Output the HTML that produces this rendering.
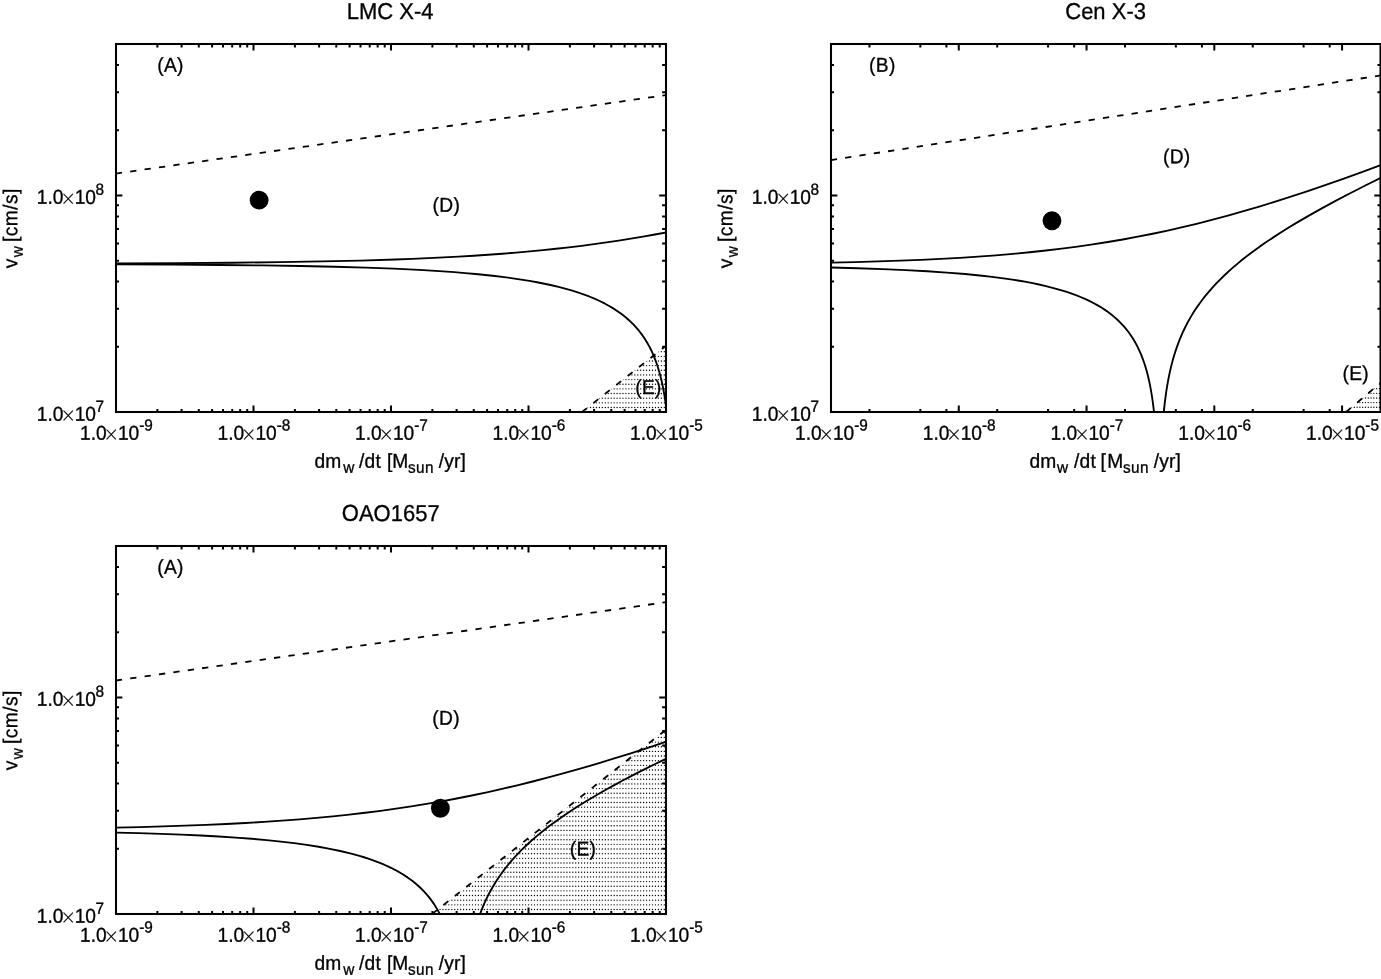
<!DOCTYPE html><html><head><meta charset="utf-8"><title>Figure</title><style>html,body{margin:0;padding:0;background:#fff}svg{display:block}text{font-family:"Liberation Sans", Arial, Helvetica, sans-serif;fill:#000;stroke:#000;stroke-width:0.3px}.x{font-family:"DejaVu Sans","Liberation Sans", Arial, Helvetica, sans-serif;font-weight:200;stroke-width:0.12px}</style></head><body>
<svg width="1381" height="979" viewBox="0 0 1381 979">
<rect width="1381" height="979" fill="#fff"/>
<clipPath id="c1"><rect x="116" y="44" width="550" height="368"/></clipPath>
<g clip-path="url(#c1)">
<clipPath id="e1"><polygon points="582.00,412.00 666.00,345.87 666.00,412.00"/></clipPath>
<path clip-path="url(#e1)" d="M581.67,412.10h0m2.951,0h0m2.951,0h0m2.951,0h0m2.951,0h0m2.951,0h0m2.951,0h0m2.951,0h0m2.951,0h0m2.951,0h0m2.951,0h0m2.951,0h0m2.951,0h0m2.951,0h0m2.951,0h0m2.951,0h0m2.951,0h0m2.951,0h0m2.951,0h0m2.951,0h0m2.951,0h0m2.951,0h0m2.951,0h0m2.951,0h0m2.951,0h0m2.951,0h0m2.951,0h0m2.951,0h0m2.951,0h0M587.58,407.45h0m2.951,0h0m2.951,0h0m2.951,0h0m2.951,0h0m2.951,0h0m2.951,0h0m2.951,0h0m2.951,0h0m2.951,0h0m2.951,0h0m2.951,0h0m2.951,0h0m2.951,0h0m2.951,0h0m2.951,0h0m2.951,0h0m2.951,0h0m2.951,0h0m2.951,0h0m2.951,0h0m2.951,0h0m2.951,0h0m2.951,0h0m2.951,0h0m2.951,0h0m2.951,0h0M593.48,402.80h0m2.951,0h0m2.951,0h0m2.951,0h0m2.951,0h0m2.951,0h0m2.951,0h0m2.951,0h0m2.951,0h0m2.951,0h0m2.951,0h0m2.951,0h0m2.951,0h0m2.951,0h0m2.951,0h0m2.951,0h0m2.951,0h0m2.951,0h0m2.951,0h0m2.951,0h0m2.951,0h0m2.951,0h0m2.951,0h0m2.951,0h0m2.951,0h0M599.38,398.15h0m2.951,0h0m2.951,0h0m2.951,0h0m2.951,0h0m2.951,0h0m2.951,0h0m2.951,0h0m2.951,0h0m2.951,0h0m2.951,0h0m2.951,0h0m2.951,0h0m2.951,0h0m2.951,0h0m2.951,0h0m2.951,0h0m2.951,0h0m2.951,0h0m2.951,0h0m2.951,0h0m2.951,0h0m2.951,0h0M605.28,393.50h0m2.951,0h0m2.951,0h0m2.951,0h0m2.951,0h0m2.951,0h0m2.951,0h0m2.951,0h0m2.951,0h0m2.951,0h0m2.951,0h0m2.951,0h0m2.951,0h0m2.951,0h0m2.951,0h0m2.951,0h0m2.951,0h0m2.951,0h0m2.951,0h0m2.951,0h0m2.951,0h0M611.18,388.85h0m2.951,0h0m2.951,0h0m2.951,0h0m2.951,0h0m2.951,0h0m2.951,0h0m2.951,0h0m2.951,0h0m2.951,0h0m2.951,0h0m2.951,0h0m2.951,0h0m2.951,0h0m2.951,0h0m2.951,0h0m2.951,0h0m2.951,0h0m2.951,0h0M617.09,384.20h0m2.951,0h0m2.951,0h0m2.951,0h0m2.951,0h0m2.951,0h0m2.951,0h0m2.951,0h0m2.951,0h0m2.951,0h0m2.951,0h0m2.951,0h0m2.951,0h0m2.951,0h0m2.951,0h0m2.951,0h0m2.951,0h0M622.99,379.56h0m2.951,0h0m2.951,0h0m2.951,0h0m2.951,0h0m2.951,0h0m2.951,0h0m2.951,0h0m2.951,0h0m2.951,0h0m2.951,0h0m2.951,0h0m2.951,0h0m2.951,0h0m2.951,0h0M628.89,374.91h0m2.951,0h0m2.951,0h0m2.951,0h0m2.951,0h0m2.951,0h0m2.951,0h0m2.951,0h0m2.951,0h0m2.951,0h0m2.951,0h0m2.951,0h0m2.951,0h0M634.79,370.26h0m2.951,0h0m2.951,0h0m2.951,0h0m2.951,0h0m2.951,0h0m2.951,0h0m2.951,0h0m2.951,0h0m2.951,0h0m2.951,0h0M640.69,365.61h0m2.951,0h0m2.951,0h0m2.951,0h0m2.951,0h0m2.951,0h0m2.951,0h0m2.951,0h0m2.951,0h0M646.60,360.96h0m2.951,0h0m2.951,0h0m2.951,0h0m2.951,0h0m2.951,0h0m2.951,0h0M652.50,356.31h0m2.951,0h0m2.951,0h0m2.951,0h0m2.951,0h0M658.40,351.66h0m2.951,0h0m2.951,0h0M664.30,347.01h0" stroke="#000" stroke-width="1.35" stroke-linecap="round" fill="none"/>
<path d="M115.80,173.58L667.00,94.96" stroke="#000" stroke-width="1.8" fill="none" stroke-dasharray="6.3 8.23"/>
<path d="M582.00,412.00L668.00,344.29" stroke="#000" stroke-width="1.8" fill="none" stroke-dasharray="6.3 8.23" stroke-dashoffset="0"/>
<path d="M115.00,263.45L178.22,263.14L232.23,262.72L279.57,262.16L321.74,261.45L360.25,260.55L395.48,259.46L412.08,258.83L428.10,258.15L443.59,257.41L458.59,256.60L473.56,255.71L488.12,254.75L502.31,253.71L516.15,252.60L529.70,251.41L542.99,250.14L556.03,248.78L568.87,247.34L581.53,245.80L594.04,244.17L606.42,242.44L618.67,240.62L630.84,238.69L642.93,236.66L654.98,234.51L667.00,232.25" stroke="#000" stroke-width="1.85" fill="none" stroke-linejoin="round"/>
<path d="M115.00,264.33L171.46,264.61L220.03,264.97L262.65,265.44L300.46,266.03L334.62,266.77L365.48,267.65L393.52,268.70L419.13,269.92L431.41,270.63L443.16,271.38L454.41,272.19L465.18,273.05L475.52,273.98L485.44,274.96L494.95,276.01L504.09,277.12L512.85,278.30L521.27,279.55L529.34,280.87L537.10,282.26L544.54,283.72L551.67,285.27L558.52,286.89L565.07,288.60L571.50,290.43L577.66,292.36L583.54,294.37L589.17,296.49L594.53,298.70L599.67,301.02L604.55,303.45L609.22,305.98L613.65,308.63L617.87,311.40L621.87,314.28L625.67,317.29L629.26,320.43L632.66,323.71L635.88,327.12L638.92,330.69L641.75,334.37L644.41,338.20L646.91,342.20L649.25,346.38L651.45,350.74L653.49,355.29L655.39,360.04L657.16,365.01L658.79,370.18L660.29,375.59L661.69,381.31L662.96,387.27L664.12,393.53L665.18,400.18L666.13,407.12L667.00,414.55" stroke="#000" stroke-width="1.85" fill="none" stroke-linejoin="round"/>
</g>
<path d="M157.39,412v-3.05M157.39,44v3.6M181.60,412v-3.05M181.60,44v3.6M198.78,412v-3.05M198.78,44v3.6M212.11,412v-3.05M212.11,44v3.6M223.00,412v-3.05M223.00,44v3.6M232.20,412v-3.05M232.20,44v3.6M240.17,412v-3.05M240.17,44v3.6M247.21,412v-3.05M247.21,44v3.6M253.50,412v-6.5M253.50,44v6.6M294.89,412v-3.05M294.89,44v3.6M319.10,412v-3.05M319.10,44v3.6M336.28,412v-3.05M336.28,44v3.6M349.61,412v-3.05M349.61,44v3.6M360.50,412v-3.05M360.50,44v3.6M369.70,412v-3.05M369.70,44v3.6M377.67,412v-3.05M377.67,44v3.6M384.71,412v-3.05M384.71,44v3.6M391.00,412v-6.5M391.00,44v6.6M432.39,412v-3.05M432.39,44v3.6M456.60,412v-3.05M456.60,44v3.6M473.78,412v-3.05M473.78,44v3.6M487.11,412v-3.05M487.11,44v3.6M498.00,412v-3.05M498.00,44v3.6M507.20,412v-3.05M507.20,44v3.6M515.17,412v-3.05M515.17,44v3.6M522.21,412v-3.05M522.21,44v3.6M528.50,412v-6.5M528.50,44v6.6M569.89,412v-3.05M569.89,44v3.6M594.10,412v-3.05M594.10,44v3.6M611.28,412v-3.05M611.28,44v3.6M624.61,412v-3.05M624.61,44v3.6M635.50,412v-3.05M635.50,44v3.6M644.70,412v-3.05M644.70,44v3.6M652.67,412v-3.05M652.67,44v3.6M659.71,412v-3.05M659.71,44v3.6M116,346.81h3.0M666,346.81h-3.9M116,308.68h3.0M666,308.68h-3.9M116,281.62h3.0M666,281.62h-3.9M116,260.64h3.0M666,260.64h-3.9M116,243.49h3.0M666,243.49h-3.9M116,228.99h3.0M666,228.99h-3.9M116,216.44h3.0M666,216.44h-3.9M116,205.36h3.0M666,205.36h-3.9M116,195.45h6.4M666,195.45h-6.8M116,130.26h3.0M666,130.26h-3.9M116,92.13h3.0M666,92.13h-3.9M116,65.07h3.0M666,65.07h-3.9" stroke="#000" stroke-width="2.0" fill="none"/>
<rect x="116" y="44" width="550" height="368" fill="none" stroke="#000" stroke-width="2.05"/>
<circle cx="259.1" cy="200.13" r="9.4" fill="#000"/>
<g transform="translate(80.00,439.70) rotate(0.03) scale(1,1.045)"><text font-size="19.2">1.0</text><text x="23.35" y="1.0" font-size="19" class="x">×</text><text x="37.9" font-size="19.2">10</text><text x="59.2" y="-8.8" font-size="15.36">-9</text></g>
<g transform="translate(217.50,439.70) rotate(0.03) scale(1,1.045)"><text font-size="19.2">1.0</text><text x="23.35" y="1.0" font-size="19" class="x">×</text><text x="37.9" font-size="19.2">10</text><text x="59.2" y="-8.8" font-size="15.36">-8</text></g>
<g transform="translate(355.00,439.70) rotate(0.03) scale(1,1.045)"><text font-size="19.2">1.0</text><text x="23.35" y="1.0" font-size="19" class="x">×</text><text x="37.9" font-size="19.2">10</text><text x="59.2" y="-8.8" font-size="15.36">-7</text></g>
<g transform="translate(492.50,439.70) rotate(0.03) scale(1,1.045)"><text font-size="19.2">1.0</text><text x="23.35" y="1.0" font-size="19" class="x">×</text><text x="37.9" font-size="19.2">10</text><text x="59.2" y="-8.8" font-size="15.36">-6</text></g>
<g transform="translate(630.00,439.70) rotate(0.03) scale(1,1.045)"><text font-size="19.2">1.0</text><text x="23.35" y="1.0" font-size="19" class="x">×</text><text x="37.9" font-size="19.2">10</text><text x="59.2" y="-8.8" font-size="15.36">-5</text></g>
<g transform="translate(36.80,420.80) rotate(0.03) scale(1,1.045)"><text font-size="19.2">1.0</text><text x="23.35" y="1.0" font-size="19" class="x">×</text><text x="37.9" font-size="19.2">10</text><text x="58.7" y="-8.8" font-size="15.36">7</text></g>
<g transform="translate(36.80,203.85) rotate(0.03) scale(1,1.045)"><text font-size="19.2">1.0</text><text x="23.35" y="1.0" font-size="19" class="x">×</text><text x="37.9" font-size="19.2">10</text><text x="58.7" y="-8.8" font-size="15.36">8</text></g>
<text transform="translate(390.20,18.90) rotate(0.03) scale(1,1.045)" font-size="22.0" text-anchor="middle">LMC X-4</text>
<text transform="translate(314.50,467.80) rotate(0.03) scale(1,1.045)" font-size="19.2">dm</text>
<text transform="translate(343.20,472.70) rotate(0.03) scale(1,1.045)" font-size="15.36">w</text>
<text transform="translate(358.90,467.80) rotate(0.03) scale(1,1.045)" font-size="19.2" letter-spacing="0.25">/dt</text>
<text transform="translate(386.90,467.80) rotate(0.03) scale(1,1.045)" font-size="19.2">[</text>
<text transform="translate(392.24,467.80) rotate(0.03) scale(1,1.045)" font-size="19.2">M</text>
<text transform="translate(407.90,472.70) rotate(0.03) scale(1,1.045)" font-size="15.36" letter-spacing="0.4">sun</text>
<text transform="translate(438.70,467.80) rotate(0.03) scale(1,1.045)" font-size="19.2" letter-spacing="0.15">/yr</text>
<text transform="translate(460.50,467.80) rotate(0.03) scale(1,1.045)" font-size="19.2">]</text>
<text transform="translate(17.30,268.30) rotate(-90) rotate(0.03) scale(1,1.045)" font-size="19.2">v</text>
<text transform="translate(22.70,257.30) rotate(-90) rotate(0.03) scale(1,1.045)" font-size="15.36">w</text>
<text transform="translate(17.30,242.00) rotate(-90) rotate(0.03) scale(1,1.045)" font-size="19.2" letter-spacing="0.42">[cm/s]</text>
<text transform="translate(157.20,71.70) rotate(0.03) scale(1,1.045)" font-size="19.2" letter-spacing="0.3">(A)</text>
<text transform="translate(432.60,211.70) rotate(0.03) scale(1,1.045)" font-size="19.2" letter-spacing="0.3">(D)</text>
<text transform="translate(635.20,394.00) rotate(0.03) scale(1,1.045)" font-size="19.2" letter-spacing="0.3">(E)</text>
<clipPath id="c2"><rect x="831" y="44" width="549.5" height="368"/></clipPath>
<g clip-path="url(#c2)">
<clipPath id="e2"><polygon points="1346.10,412.00 1380.50,382.86 1380.50,412.00"/></clipPath>
<path clip-path="url(#e2)" d="M1345.93,411.92h0m2.79,0h0m2.79,0h0m2.79,0h0m2.79,0h0m2.79,0h0m2.79,0h0m2.79,0h0m2.79,0h0m2.79,0h0m2.79,0h0m2.79,0h0m2.79,0h0M1351.51,407.27h0m2.79,0h0m2.79,0h0m2.79,0h0m2.79,0h0m2.79,0h0m2.79,0h0m2.79,0h0m2.79,0h0m2.79,0h0m2.79,0h0M1357.09,402.62h0m2.79,0h0m2.79,0h0m2.79,0h0m2.79,0h0m2.79,0h0m2.79,0h0m2.79,0h0m2.79,0h0M1362.67,397.97h0m2.79,0h0m2.79,0h0m2.79,0h0m2.79,0h0m2.79,0h0m2.79,0h0M1368.25,393.32h0m2.79,0h0m2.79,0h0m2.79,0h0m2.79,0h0M1373.83,388.67h0m2.79,0h0m2.79,0h0M1379.41,384.02h0" stroke="#000" stroke-width="1.35" stroke-linecap="round" fill="none"/>
<path d="M830.80,160.08L1381.50,75.30" stroke="#000" stroke-width="1.8" fill="none" stroke-dasharray="6.3 8.19"/>
<path d="M1346.10,412.00L1382.50,381.17" stroke="#000" stroke-width="1.8" fill="none" stroke-dasharray="6.3 8.23" stroke-dashoffset="0"/>
<path d="M830.00,262.67L854.81,262.09L878.09,261.43L900.08,260.68L920.93,259.83L940.83,258.87L959.86,257.80L978.16,256.61L995.80,255.30L1012.96,253.85L1029.65,252.27L1045.89,250.54L1061.78,248.66L1077.36,246.62L1092.69,244.41L1107.83,242.03L1122.80,239.48L1137.79,236.71L1152.72,233.74L1167.63,230.56L1182.56,227.17L1197.56,223.55L1212.68,219.69L1227.96,215.58L1243.46,211.20L1259.18,206.56L1275.23,201.62L1291.65,196.38L1308.53,190.79L1325.90,184.85L1343.88,178.53L1362.54,171.79L1382.00,164.60" stroke="#000" stroke-width="1.85" fill="none" stroke-linejoin="round"/>
<path d="M830.00,267.52L857.55,268.25L882.72,269.11L905.83,270.10L927.13,271.25L946.85,272.56L965.11,274.04L982.05,275.71L990.06,276.61L997.78,277.57L1005.28,278.58L1012.51,279.65L1019.48,280.78L1026.20,281.96L1032.67,283.20L1038.91,284.50L1044.91,285.86L1050.70,287.28L1056.27,288.77L1061.64,290.33L1066.80,291.95L1071.77,293.64L1076.54,295.41L1081.14,297.25L1085.55,299.16L1089.79,301.16L1093.82,303.21L1097.70,305.35L1101.41,307.57L1104.97,309.88L1108.37,312.27L1111.62,314.76L1114.74,317.35L1117.71,320.03L1120.54,322.80L1123.24,325.69L1125.81,328.68L1128.25,331.79L1130.57,335.01L1132.77,338.34L1134.85,341.81L1136.81,345.39L1138.64,349.08L1140.38,352.92L1142.01,356.90L1143.54,361.03L1144.98,365.32L1146.33,369.81L1147.59,374.47L1148.76,379.33L1149.84,384.34L1150.84,389.61L1151.77,395.09L1152.62,400.84L1153.41,406.88L1154.13,413.21L1154.78,419.82L1155.37,426.84M1162.48,426.99L1163.51,414.56L1164.73,403.12L1166.15,392.41L1166.94,387.34L1167.79,382.34L1168.70,377.52L1169.67,372.85L1170.70,368.28L1171.79,363.86L1172.95,359.53L1174.18,355.30L1175.48,351.17L1176.86,347.09L1178.32,343.07L1179.85,339.15L1181.47,335.29L1183.16,331.49L1184.94,327.76L1186.82,324.06L1188.78,320.43L1190.82,316.86L1192.96,313.32L1195.20,309.83L1197.53,306.37L1199.96,302.95L1202.50,299.55L1205.13,296.19L1207.88,292.85L1210.72,289.54L1213.73,286.19L1216.85,282.87L1220.09,279.56L1223.46,276.25L1226.95,272.96L1230.57,269.68L1234.31,266.40L1238.19,263.12L1242.20,259.84L1246.36,256.56L1250.66,253.26L1255.11,249.97L1264.46,243.32L1274.44,236.61L1285.07,229.81L1296.40,222.90L1308.47,215.84L1321.35,208.61L1335.07,201.18L1349.69,193.51L1365.32,185.55L1382.00,177.29" stroke="#000" stroke-width="1.85" fill="none" stroke-linejoin="round"/>
</g>
<path d="M869.46,412v-3.05M869.46,44v3.6M920.31,412v-3.05M920.31,44v3.6M946.39,412v-3.05M946.39,44v3.6M958.77,412v-6.5M958.77,44v6.6M997.23,412v-3.05M997.23,44v3.6M1048.08,412v-3.05M1048.08,44v3.6M1074.16,412v-3.05M1074.16,44v3.6M1086.54,412v-6.5M1086.54,44v6.6M1125.00,412v-3.05M1125.00,44v3.6M1175.85,412v-3.05M1175.85,44v3.6M1201.93,412v-3.05M1201.93,44v3.6M1214.31,412v-6.5M1214.31,44v6.6M1252.77,412v-3.05M1252.77,44v3.6M1303.62,412v-3.05M1303.62,44v3.6M1329.70,412v-3.05M1329.70,44v3.6M1342.08,412v-6.5M1342.08,44v6.6M831,346.81h3.0M1380.5,346.81h-3.0M831,308.68h3.0M1380.5,308.68h-3.0M831,281.62h3.0M1380.5,281.62h-3.0M831,260.64h3.0M1380.5,260.64h-3.0M831,243.49h3.0M1380.5,243.49h-3.0M831,228.99h3.0M1380.5,228.99h-3.0M831,216.44h3.0M1380.5,216.44h-3.0M831,205.36h3.0M1380.5,205.36h-3.0M831,195.45h6.4M1380.5,195.45h-6.2M831,130.26h3.0M1380.5,130.26h-3.0M831,92.13h3.0M1380.5,92.13h-3.0M831,65.07h3.0M1380.5,65.07h-3.0" stroke="#000" stroke-width="2.0" fill="none"/>
<rect x="831" y="44" width="549.5" height="368" fill="none" stroke="#000" stroke-width="2.05"/>
<circle cx="1051.95" cy="220.75" r="9.4" fill="#000"/>
<g transform="translate(795.00,439.70) rotate(0.03) scale(1,1.045)"><text font-size="19.2">1.0</text><text x="23.35" y="1.0" font-size="19" class="x">×</text><text x="37.9" font-size="19.2">10</text><text x="59.2" y="-8.8" font-size="15.36">-9</text></g>
<g transform="translate(922.77,439.70) rotate(0.03) scale(1,1.045)"><text font-size="19.2">1.0</text><text x="23.35" y="1.0" font-size="19" class="x">×</text><text x="37.9" font-size="19.2">10</text><text x="59.2" y="-8.8" font-size="15.36">-8</text></g>
<g transform="translate(1050.54,439.70) rotate(0.03) scale(1,1.045)"><text font-size="19.2">1.0</text><text x="23.35" y="1.0" font-size="19" class="x">×</text><text x="37.9" font-size="19.2">10</text><text x="59.2" y="-8.8" font-size="15.36">-7</text></g>
<g transform="translate(1178.31,439.70) rotate(0.03) scale(1,1.045)"><text font-size="19.2">1.0</text><text x="23.35" y="1.0" font-size="19" class="x">×</text><text x="37.9" font-size="19.2">10</text><text x="59.2" y="-8.8" font-size="15.36">-6</text></g>
<g transform="translate(1306.08,439.70) rotate(0.03) scale(1,1.045)"><text font-size="19.2">1.0</text><text x="23.35" y="1.0" font-size="19" class="x">×</text><text x="37.9" font-size="19.2">10</text><text x="59.2" y="-8.8" font-size="15.36">-5</text></g>
<g transform="translate(751.80,420.80) rotate(0.03) scale(1,1.045)"><text font-size="19.2">1.0</text><text x="23.35" y="1.0" font-size="19" class="x">×</text><text x="37.9" font-size="19.2">10</text><text x="58.7" y="-8.8" font-size="15.36">7</text></g>
<g transform="translate(751.80,203.85) rotate(0.03) scale(1,1.045)"><text font-size="19.2">1.0</text><text x="23.35" y="1.0" font-size="19" class="x">×</text><text x="37.9" font-size="19.2">10</text><text x="58.7" y="-8.8" font-size="15.36">8</text></g>
<text transform="translate(1105.60,18.90) rotate(0.03) scale(1,1.045)" font-size="22.0" text-anchor="middle">Cen X-3</text>
<text transform="translate(1029.50,467.80) rotate(0.03) scale(1,1.045)" font-size="19.2">dm</text>
<text transform="translate(1057.10,472.70) rotate(0.03) scale(1,1.045)" font-size="15.36">w</text>
<text transform="translate(1073.90,467.80) rotate(0.03) scale(1,1.045)" font-size="19.2" letter-spacing="0.25">/dt</text>
<text transform="translate(1100.50,467.80) rotate(0.03) scale(1,1.045)" font-size="19.2">[</text>
<text transform="translate(1107.24,467.80) rotate(0.03) scale(1,1.045)" font-size="19.2">M</text>
<text transform="translate(1122.90,472.70) rotate(0.03) scale(1,1.045)" font-size="15.36" letter-spacing="0.4">sun</text>
<text transform="translate(1153.70,467.80) rotate(0.03) scale(1,1.045)" font-size="19.2" letter-spacing="0.15">/yr</text>
<text transform="translate(1175.50,467.80) rotate(0.03) scale(1,1.045)" font-size="19.2">]</text>
<text transform="translate(732.30,268.30) rotate(-90) rotate(0.03) scale(1,1.045)" font-size="19.2">v</text>
<text transform="translate(737.70,257.30) rotate(-90) rotate(0.03) scale(1,1.045)" font-size="15.36">w</text>
<text transform="translate(732.30,242.00) rotate(-90) rotate(0.03) scale(1,1.045)" font-size="19.2" letter-spacing="0.42">[cm/s]</text>
<text transform="translate(869.10,71.70) rotate(0.03) scale(1,1.045)" font-size="19.2" letter-spacing="0.3">(B)</text>
<text transform="translate(1163.00,163.20) rotate(0.03) scale(1,1.045)" font-size="19.2" letter-spacing="0.3">(D)</text>
<text transform="translate(1342.50,379.90) rotate(0.03) scale(1,1.045)" font-size="19.2" letter-spacing="0.3">(E)</text>
<clipPath id="c3"><rect x="116" y="546" width="550" height="368"/></clipPath>
<g clip-path="url(#c3)">
<clipPath id="e3"><polygon points="432.00,914.00 666.00,729.77 666.00,914.00"/></clipPath>
<path clip-path="url(#e3)" d="M431.17,914.10h0m2.951,0h0m2.951,0h0m2.951,0h0m2.951,0h0m2.951,0h0m2.951,0h0m2.951,0h0m2.951,0h0m2.951,0h0m2.951,0h0m2.951,0h0m2.951,0h0m2.951,0h0m2.951,0h0m2.951,0h0m2.951,0h0m2.951,0h0m2.951,0h0m2.951,0h0m2.951,0h0m2.951,0h0m2.951,0h0m2.951,0h0m2.951,0h0m2.951,0h0m2.951,0h0m2.951,0h0m2.951,0h0m2.951,0h0m2.951,0h0m2.951,0h0m2.951,0h0m2.951,0h0m2.951,0h0m2.951,0h0m2.951,0h0m2.951,0h0m2.951,0h0m2.951,0h0m2.951,0h0m2.951,0h0m2.951,0h0m2.951,0h0m2.951,0h0m2.951,0h0m2.951,0h0m2.951,0h0m2.951,0h0m2.951,0h0m2.951,0h0m2.951,0h0m2.951,0h0m2.951,0h0m2.951,0h0m2.951,0h0m2.951,0h0m2.951,0h0m2.951,0h0m2.951,0h0m2.951,0h0m2.951,0h0m2.951,0h0m2.951,0h0m2.951,0h0m2.951,0h0m2.951,0h0m2.951,0h0m2.951,0h0m2.951,0h0m2.951,0h0m2.951,0h0m2.951,0h0m2.951,0h0m2.951,0h0m2.951,0h0m2.951,0h0m2.951,0h0m2.951,0h0m2.951,0h0M437.07,909.45h0m2.951,0h0m2.951,0h0m2.951,0h0m2.951,0h0m2.951,0h0m2.951,0h0m2.951,0h0m2.951,0h0m2.951,0h0m2.951,0h0m2.951,0h0m2.951,0h0m2.951,0h0m2.951,0h0m2.951,0h0m2.951,0h0m2.951,0h0m2.951,0h0m2.951,0h0m2.951,0h0m2.951,0h0m2.951,0h0m2.951,0h0m2.951,0h0m2.951,0h0m2.951,0h0m2.951,0h0m2.951,0h0m2.951,0h0m2.951,0h0m2.951,0h0m2.951,0h0m2.951,0h0m2.951,0h0m2.951,0h0m2.951,0h0m2.951,0h0m2.951,0h0m2.951,0h0m2.951,0h0m2.951,0h0m2.951,0h0m2.951,0h0m2.951,0h0m2.951,0h0m2.951,0h0m2.951,0h0m2.951,0h0m2.951,0h0m2.951,0h0m2.951,0h0m2.951,0h0m2.951,0h0m2.951,0h0m2.951,0h0m2.951,0h0m2.951,0h0m2.951,0h0m2.951,0h0m2.951,0h0m2.951,0h0m2.951,0h0m2.951,0h0m2.951,0h0m2.951,0h0m2.951,0h0m2.951,0h0m2.951,0h0m2.951,0h0m2.951,0h0m2.951,0h0m2.951,0h0m2.951,0h0m2.951,0h0m2.951,0h0m2.951,0h0m2.951,0h0M442.98,904.80h0m2.951,0h0m2.951,0h0m2.951,0h0m2.951,0h0m2.951,0h0m2.951,0h0m2.951,0h0m2.951,0h0m2.951,0h0m2.951,0h0m2.951,0h0m2.951,0h0m2.951,0h0m2.951,0h0m2.951,0h0m2.951,0h0m2.951,0h0m2.951,0h0m2.951,0h0m2.951,0h0m2.951,0h0m2.951,0h0m2.951,0h0m2.951,0h0m2.951,0h0m2.951,0h0m2.951,0h0m2.951,0h0m2.951,0h0m2.951,0h0m2.951,0h0m2.951,0h0m2.951,0h0m2.951,0h0m2.951,0h0m2.951,0h0m2.951,0h0m2.951,0h0m2.951,0h0m2.951,0h0m2.951,0h0m2.951,0h0m2.951,0h0m2.951,0h0m2.951,0h0m2.951,0h0m2.951,0h0m2.951,0h0m2.951,0h0m2.951,0h0m2.951,0h0m2.951,0h0m2.951,0h0m2.951,0h0m2.951,0h0m2.951,0h0m2.951,0h0m2.951,0h0m2.951,0h0m2.951,0h0m2.951,0h0m2.951,0h0m2.951,0h0m2.951,0h0m2.951,0h0m2.951,0h0m2.951,0h0m2.951,0h0m2.951,0h0m2.951,0h0m2.951,0h0m2.951,0h0m2.951,0h0m2.951,0h0m2.951,0h0M448.88,900.15h0m2.951,0h0m2.951,0h0m2.951,0h0m2.951,0h0m2.951,0h0m2.951,0h0m2.951,0h0m2.951,0h0m2.951,0h0m2.951,0h0m2.951,0h0m2.951,0h0m2.951,0h0m2.951,0h0m2.951,0h0m2.951,0h0m2.951,0h0m2.951,0h0m2.951,0h0m2.951,0h0m2.951,0h0m2.951,0h0m2.951,0h0m2.951,0h0m2.951,0h0m2.951,0h0m2.951,0h0m2.951,0h0m2.951,0h0m2.951,0h0m2.951,0h0m2.951,0h0m2.951,0h0m2.951,0h0m2.951,0h0m2.951,0h0m2.951,0h0m2.951,0h0m2.951,0h0m2.951,0h0m2.951,0h0m2.951,0h0m2.951,0h0m2.951,0h0m2.951,0h0m2.951,0h0m2.951,0h0m2.951,0h0m2.951,0h0m2.951,0h0m2.951,0h0m2.951,0h0m2.951,0h0m2.951,0h0m2.951,0h0m2.951,0h0m2.951,0h0m2.951,0h0m2.951,0h0m2.951,0h0m2.951,0h0m2.951,0h0m2.951,0h0m2.951,0h0m2.951,0h0m2.951,0h0m2.951,0h0m2.951,0h0m2.951,0h0m2.951,0h0m2.951,0h0m2.951,0h0m2.951,0h0M454.78,895.50h0m2.951,0h0m2.951,0h0m2.951,0h0m2.951,0h0m2.951,0h0m2.951,0h0m2.951,0h0m2.951,0h0m2.951,0h0m2.951,0h0m2.951,0h0m2.951,0h0m2.951,0h0m2.951,0h0m2.951,0h0m2.951,0h0m2.951,0h0m2.951,0h0m2.951,0h0m2.951,0h0m2.951,0h0m2.951,0h0m2.951,0h0m2.951,0h0m2.951,0h0m2.951,0h0m2.951,0h0m2.951,0h0m2.951,0h0m2.951,0h0m2.951,0h0m2.951,0h0m2.951,0h0m2.951,0h0m2.951,0h0m2.951,0h0m2.951,0h0m2.951,0h0m2.951,0h0m2.951,0h0m2.951,0h0m2.951,0h0m2.951,0h0m2.951,0h0m2.951,0h0m2.951,0h0m2.951,0h0m2.951,0h0m2.951,0h0m2.951,0h0m2.951,0h0m2.951,0h0m2.951,0h0m2.951,0h0m2.951,0h0m2.951,0h0m2.951,0h0m2.951,0h0m2.951,0h0m2.951,0h0m2.951,0h0m2.951,0h0m2.951,0h0m2.951,0h0m2.951,0h0m2.951,0h0m2.951,0h0m2.951,0h0m2.951,0h0m2.951,0h0m2.951,0h0M460.68,890.85h0m2.951,0h0m2.951,0h0m2.951,0h0m2.951,0h0m2.951,0h0m2.951,0h0m2.951,0h0m2.951,0h0m2.951,0h0m2.951,0h0m2.951,0h0m2.951,0h0m2.951,0h0m2.951,0h0m2.951,0h0m2.951,0h0m2.951,0h0m2.951,0h0m2.951,0h0m2.951,0h0m2.951,0h0m2.951,0h0m2.951,0h0m2.951,0h0m2.951,0h0m2.951,0h0m2.951,0h0m2.951,0h0m2.951,0h0m2.951,0h0m2.951,0h0m2.951,0h0m2.951,0h0m2.951,0h0m2.951,0h0m2.951,0h0m2.951,0h0m2.951,0h0m2.951,0h0m2.951,0h0m2.951,0h0m2.951,0h0m2.951,0h0m2.951,0h0m2.951,0h0m2.951,0h0m2.951,0h0m2.951,0h0m2.951,0h0m2.951,0h0m2.951,0h0m2.951,0h0m2.951,0h0m2.951,0h0m2.951,0h0m2.951,0h0m2.951,0h0m2.951,0h0m2.951,0h0m2.951,0h0m2.951,0h0m2.951,0h0m2.951,0h0m2.951,0h0m2.951,0h0m2.951,0h0m2.951,0h0m2.951,0h0m2.951,0h0M466.58,886.21h0m2.951,0h0m2.951,0h0m2.951,0h0m2.951,0h0m2.951,0h0m2.951,0h0m2.951,0h0m2.951,0h0m2.951,0h0m2.951,0h0m2.951,0h0m2.951,0h0m2.951,0h0m2.951,0h0m2.951,0h0m2.951,0h0m2.951,0h0m2.951,0h0m2.951,0h0m2.951,0h0m2.951,0h0m2.951,0h0m2.951,0h0m2.951,0h0m2.951,0h0m2.951,0h0m2.951,0h0m2.951,0h0m2.951,0h0m2.951,0h0m2.951,0h0m2.951,0h0m2.951,0h0m2.951,0h0m2.951,0h0m2.951,0h0m2.951,0h0m2.951,0h0m2.951,0h0m2.951,0h0m2.951,0h0m2.951,0h0m2.951,0h0m2.951,0h0m2.951,0h0m2.951,0h0m2.951,0h0m2.951,0h0m2.951,0h0m2.951,0h0m2.951,0h0m2.951,0h0m2.951,0h0m2.951,0h0m2.951,0h0m2.951,0h0m2.951,0h0m2.951,0h0m2.951,0h0m2.951,0h0m2.951,0h0m2.951,0h0m2.951,0h0m2.951,0h0m2.951,0h0m2.951,0h0m2.951,0h0M472.49,881.56h0m2.951,0h0m2.951,0h0m2.951,0h0m2.951,0h0m2.951,0h0m2.951,0h0m2.951,0h0m2.951,0h0m2.951,0h0m2.951,0h0m2.951,0h0m2.951,0h0m2.951,0h0m2.951,0h0m2.951,0h0m2.951,0h0m2.951,0h0m2.951,0h0m2.951,0h0m2.951,0h0m2.951,0h0m2.951,0h0m2.951,0h0m2.951,0h0m2.951,0h0m2.951,0h0m2.951,0h0m2.951,0h0m2.951,0h0m2.951,0h0m2.951,0h0m2.951,0h0m2.951,0h0m2.951,0h0m2.951,0h0m2.951,0h0m2.951,0h0m2.951,0h0m2.951,0h0m2.951,0h0m2.951,0h0m2.951,0h0m2.951,0h0m2.951,0h0m2.951,0h0m2.951,0h0m2.951,0h0m2.951,0h0m2.951,0h0m2.951,0h0m2.951,0h0m2.951,0h0m2.951,0h0m2.951,0h0m2.951,0h0m2.951,0h0m2.951,0h0m2.951,0h0m2.951,0h0m2.951,0h0m2.951,0h0m2.951,0h0m2.951,0h0m2.951,0h0m2.951,0h0M478.39,876.91h0m2.951,0h0m2.951,0h0m2.951,0h0m2.951,0h0m2.951,0h0m2.951,0h0m2.951,0h0m2.951,0h0m2.951,0h0m2.951,0h0m2.951,0h0m2.951,0h0m2.951,0h0m2.951,0h0m2.951,0h0m2.951,0h0m2.951,0h0m2.951,0h0m2.951,0h0m2.951,0h0m2.951,0h0m2.951,0h0m2.951,0h0m2.951,0h0m2.951,0h0m2.951,0h0m2.951,0h0m2.951,0h0m2.951,0h0m2.951,0h0m2.951,0h0m2.951,0h0m2.951,0h0m2.951,0h0m2.951,0h0m2.951,0h0m2.951,0h0m2.951,0h0m2.951,0h0m2.951,0h0m2.951,0h0m2.951,0h0m2.951,0h0m2.951,0h0m2.951,0h0m2.951,0h0m2.951,0h0m2.951,0h0m2.951,0h0m2.951,0h0m2.951,0h0m2.951,0h0m2.951,0h0m2.951,0h0m2.951,0h0m2.951,0h0m2.951,0h0m2.951,0h0m2.951,0h0m2.951,0h0m2.951,0h0m2.951,0h0m2.951,0h0M484.29,872.26h0m2.951,0h0m2.951,0h0m2.951,0h0m2.951,0h0m2.951,0h0m2.951,0h0m2.951,0h0m2.951,0h0m2.951,0h0m2.951,0h0m2.951,0h0m2.951,0h0m2.951,0h0m2.951,0h0m2.951,0h0m2.951,0h0m2.951,0h0m2.951,0h0m2.951,0h0m2.951,0h0m2.951,0h0m2.951,0h0m2.951,0h0m2.951,0h0m2.951,0h0m2.951,0h0m2.951,0h0m2.951,0h0m2.951,0h0m2.951,0h0m2.951,0h0m2.951,0h0m2.951,0h0m2.951,0h0m2.951,0h0m2.951,0h0m2.951,0h0m2.951,0h0m2.951,0h0m2.951,0h0m2.951,0h0m2.951,0h0m2.951,0h0m2.951,0h0m2.951,0h0m2.951,0h0m2.951,0h0m2.951,0h0m2.951,0h0m2.951,0h0m2.951,0h0m2.951,0h0m2.951,0h0m2.951,0h0m2.951,0h0m2.951,0h0m2.951,0h0m2.951,0h0m2.951,0h0m2.951,0h0m2.951,0h0M490.19,867.61h0m2.951,0h0m2.951,0h0m2.951,0h0m2.951,0h0m2.951,0h0m2.951,0h0m2.951,0h0m2.951,0h0m2.951,0h0m2.951,0h0m2.951,0h0m2.951,0h0m2.951,0h0m2.951,0h0m2.951,0h0m2.951,0h0m2.951,0h0m2.951,0h0m2.951,0h0m2.951,0h0m2.951,0h0m2.951,0h0m2.951,0h0m2.951,0h0m2.951,0h0m2.951,0h0m2.951,0h0m2.951,0h0m2.951,0h0m2.951,0h0m2.951,0h0m2.951,0h0m2.951,0h0m2.951,0h0m2.951,0h0m2.951,0h0m2.951,0h0m2.951,0h0m2.951,0h0m2.951,0h0m2.951,0h0m2.951,0h0m2.951,0h0m2.951,0h0m2.951,0h0m2.951,0h0m2.951,0h0m2.951,0h0m2.951,0h0m2.951,0h0m2.951,0h0m2.951,0h0m2.951,0h0m2.951,0h0m2.951,0h0m2.951,0h0m2.951,0h0m2.951,0h0m2.951,0h0M496.09,862.96h0m2.951,0h0m2.951,0h0m2.951,0h0m2.951,0h0m2.951,0h0m2.951,0h0m2.951,0h0m2.951,0h0m2.951,0h0m2.951,0h0m2.951,0h0m2.951,0h0m2.951,0h0m2.951,0h0m2.951,0h0m2.951,0h0m2.951,0h0m2.951,0h0m2.951,0h0m2.951,0h0m2.951,0h0m2.951,0h0m2.951,0h0m2.951,0h0m2.951,0h0m2.951,0h0m2.951,0h0m2.951,0h0m2.951,0h0m2.951,0h0m2.951,0h0m2.951,0h0m2.951,0h0m2.951,0h0m2.951,0h0m2.951,0h0m2.951,0h0m2.951,0h0m2.951,0h0m2.951,0h0m2.951,0h0m2.951,0h0m2.951,0h0m2.951,0h0m2.951,0h0m2.951,0h0m2.951,0h0m2.951,0h0m2.951,0h0m2.951,0h0m2.951,0h0m2.951,0h0m2.951,0h0m2.951,0h0m2.951,0h0m2.951,0h0m2.951,0h0M502.00,858.31h0m2.951,0h0m2.951,0h0m2.951,0h0m2.951,0h0m2.951,0h0m2.951,0h0m2.951,0h0m2.951,0h0m2.951,0h0m2.951,0h0m2.951,0h0m2.951,0h0m2.951,0h0m2.951,0h0m2.951,0h0m2.951,0h0m2.951,0h0m2.951,0h0m2.951,0h0m2.951,0h0m2.951,0h0m2.951,0h0m2.951,0h0m2.951,0h0m2.951,0h0m2.951,0h0m2.951,0h0m2.951,0h0m2.951,0h0m2.951,0h0m2.951,0h0m2.951,0h0m2.951,0h0m2.951,0h0m2.951,0h0m2.951,0h0m2.951,0h0m2.951,0h0m2.951,0h0m2.951,0h0m2.951,0h0m2.951,0h0m2.951,0h0m2.951,0h0m2.951,0h0m2.951,0h0m2.951,0h0m2.951,0h0m2.951,0h0m2.951,0h0m2.951,0h0m2.951,0h0m2.951,0h0m2.951,0h0m2.951,0h0M507.90,853.66h0m2.951,0h0m2.951,0h0m2.951,0h0m2.951,0h0m2.951,0h0m2.951,0h0m2.951,0h0m2.951,0h0m2.951,0h0m2.951,0h0m2.951,0h0m2.951,0h0m2.951,0h0m2.951,0h0m2.951,0h0m2.951,0h0m2.951,0h0m2.951,0h0m2.951,0h0m2.951,0h0m2.951,0h0m2.951,0h0m2.951,0h0m2.951,0h0m2.951,0h0m2.951,0h0m2.951,0h0m2.951,0h0m2.951,0h0m2.951,0h0m2.951,0h0m2.951,0h0m2.951,0h0m2.951,0h0m2.951,0h0m2.951,0h0m2.951,0h0m2.951,0h0m2.951,0h0m2.951,0h0m2.951,0h0m2.951,0h0m2.951,0h0m2.951,0h0m2.951,0h0m2.951,0h0m2.951,0h0m2.951,0h0m2.951,0h0m2.951,0h0m2.951,0h0m2.951,0h0m2.951,0h0M513.80,849.01h0m2.951,0h0m2.951,0h0m2.951,0h0m2.951,0h0m2.951,0h0m2.951,0h0m2.951,0h0m2.951,0h0m2.951,0h0m2.951,0h0m2.951,0h0m2.951,0h0m2.951,0h0m2.951,0h0m2.951,0h0m2.951,0h0m2.951,0h0m2.951,0h0m2.951,0h0m2.951,0h0m2.951,0h0m2.951,0h0m2.951,0h0m2.951,0h0m2.951,0h0m2.951,0h0m2.951,0h0m2.951,0h0m2.951,0h0m2.951,0h0m2.951,0h0m2.951,0h0m2.951,0h0m2.951,0h0m2.951,0h0m2.951,0h0m2.951,0h0m2.951,0h0m2.951,0h0m2.951,0h0m2.951,0h0m2.951,0h0m2.951,0h0m2.951,0h0m2.951,0h0m2.951,0h0m2.951,0h0m2.951,0h0m2.951,0h0m2.951,0h0m2.951,0h0M519.70,844.36h0m2.951,0h0m2.951,0h0m2.951,0h0m2.951,0h0m2.951,0h0m2.951,0h0m2.951,0h0m2.951,0h0m2.951,0h0m2.951,0h0m2.951,0h0m2.951,0h0m2.951,0h0m2.951,0h0m2.951,0h0m2.951,0h0m2.951,0h0m2.951,0h0m2.951,0h0m2.951,0h0m2.951,0h0m2.951,0h0m2.951,0h0m2.951,0h0m2.951,0h0m2.951,0h0m2.951,0h0m2.951,0h0m2.951,0h0m2.951,0h0m2.951,0h0m2.951,0h0m2.951,0h0m2.951,0h0m2.951,0h0m2.951,0h0m2.951,0h0m2.951,0h0m2.951,0h0m2.951,0h0m2.951,0h0m2.951,0h0m2.951,0h0m2.951,0h0m2.951,0h0m2.951,0h0m2.951,0h0m2.951,0h0m2.951,0h0M525.61,839.72h0m2.951,0h0m2.951,0h0m2.951,0h0m2.951,0h0m2.951,0h0m2.951,0h0m2.951,0h0m2.951,0h0m2.951,0h0m2.951,0h0m2.951,0h0m2.951,0h0m2.951,0h0m2.951,0h0m2.951,0h0m2.951,0h0m2.951,0h0m2.951,0h0m2.951,0h0m2.951,0h0m2.951,0h0m2.951,0h0m2.951,0h0m2.951,0h0m2.951,0h0m2.951,0h0m2.951,0h0m2.951,0h0m2.951,0h0m2.951,0h0m2.951,0h0m2.951,0h0m2.951,0h0m2.951,0h0m2.951,0h0m2.951,0h0m2.951,0h0m2.951,0h0m2.951,0h0m2.951,0h0m2.951,0h0m2.951,0h0m2.951,0h0m2.951,0h0m2.951,0h0m2.951,0h0m2.951,0h0M531.51,835.07h0m2.951,0h0m2.951,0h0m2.951,0h0m2.951,0h0m2.951,0h0m2.951,0h0m2.951,0h0m2.951,0h0m2.951,0h0m2.951,0h0m2.951,0h0m2.951,0h0m2.951,0h0m2.951,0h0m2.951,0h0m2.951,0h0m2.951,0h0m2.951,0h0m2.951,0h0m2.951,0h0m2.951,0h0m2.951,0h0m2.951,0h0m2.951,0h0m2.951,0h0m2.951,0h0m2.951,0h0m2.951,0h0m2.951,0h0m2.951,0h0m2.951,0h0m2.951,0h0m2.951,0h0m2.951,0h0m2.951,0h0m2.951,0h0m2.951,0h0m2.951,0h0m2.951,0h0m2.951,0h0m2.951,0h0m2.951,0h0m2.951,0h0m2.951,0h0m2.951,0h0M537.41,830.42h0m2.951,0h0m2.951,0h0m2.951,0h0m2.951,0h0m2.951,0h0m2.951,0h0m2.951,0h0m2.951,0h0m2.951,0h0m2.951,0h0m2.951,0h0m2.951,0h0m2.951,0h0m2.951,0h0m2.951,0h0m2.951,0h0m2.951,0h0m2.951,0h0m2.951,0h0m2.951,0h0m2.951,0h0m2.951,0h0m2.951,0h0m2.951,0h0m2.951,0h0m2.951,0h0m2.951,0h0m2.951,0h0m2.951,0h0m2.951,0h0m2.951,0h0m2.951,0h0m2.951,0h0m2.951,0h0m2.951,0h0m2.951,0h0m2.951,0h0m2.951,0h0m2.951,0h0m2.951,0h0m2.951,0h0m2.951,0h0m2.951,0h0M543.31,825.77h0m2.951,0h0m2.951,0h0m2.951,0h0m2.951,0h0m2.951,0h0m2.951,0h0m2.951,0h0m2.951,0h0m2.951,0h0m2.951,0h0m2.951,0h0m2.951,0h0m2.951,0h0m2.951,0h0m2.951,0h0m2.951,0h0m2.951,0h0m2.951,0h0m2.951,0h0m2.951,0h0m2.951,0h0m2.951,0h0m2.951,0h0m2.951,0h0m2.951,0h0m2.951,0h0m2.951,0h0m2.951,0h0m2.951,0h0m2.951,0h0m2.951,0h0m2.951,0h0m2.951,0h0m2.951,0h0m2.951,0h0m2.951,0h0m2.951,0h0m2.951,0h0m2.951,0h0m2.951,0h0m2.951,0h0M549.21,821.12h0m2.951,0h0m2.951,0h0m2.951,0h0m2.951,0h0m2.951,0h0m2.951,0h0m2.951,0h0m2.951,0h0m2.951,0h0m2.951,0h0m2.951,0h0m2.951,0h0m2.951,0h0m2.951,0h0m2.951,0h0m2.951,0h0m2.951,0h0m2.951,0h0m2.951,0h0m2.951,0h0m2.951,0h0m2.951,0h0m2.951,0h0m2.951,0h0m2.951,0h0m2.951,0h0m2.951,0h0m2.951,0h0m2.951,0h0m2.951,0h0m2.951,0h0m2.951,0h0m2.951,0h0m2.951,0h0m2.951,0h0m2.951,0h0m2.951,0h0m2.951,0h0m2.951,0h0M555.12,816.47h0m2.951,0h0m2.951,0h0m2.951,0h0m2.951,0h0m2.951,0h0m2.951,0h0m2.951,0h0m2.951,0h0m2.951,0h0m2.951,0h0m2.951,0h0m2.951,0h0m2.951,0h0m2.951,0h0m2.951,0h0m2.951,0h0m2.951,0h0m2.951,0h0m2.951,0h0m2.951,0h0m2.951,0h0m2.951,0h0m2.951,0h0m2.951,0h0m2.951,0h0m2.951,0h0m2.951,0h0m2.951,0h0m2.951,0h0m2.951,0h0m2.951,0h0m2.951,0h0m2.951,0h0m2.951,0h0m2.951,0h0m2.951,0h0m2.951,0h0M561.02,811.82h0m2.951,0h0m2.951,0h0m2.951,0h0m2.951,0h0m2.951,0h0m2.951,0h0m2.951,0h0m2.951,0h0m2.951,0h0m2.951,0h0m2.951,0h0m2.951,0h0m2.951,0h0m2.951,0h0m2.951,0h0m2.951,0h0m2.951,0h0m2.951,0h0m2.951,0h0m2.951,0h0m2.951,0h0m2.951,0h0m2.951,0h0m2.951,0h0m2.951,0h0m2.951,0h0m2.951,0h0m2.951,0h0m2.951,0h0m2.951,0h0m2.951,0h0m2.951,0h0m2.951,0h0m2.951,0h0m2.951,0h0M566.92,807.17h0m2.951,0h0m2.951,0h0m2.951,0h0m2.951,0h0m2.951,0h0m2.951,0h0m2.951,0h0m2.951,0h0m2.951,0h0m2.951,0h0m2.951,0h0m2.951,0h0m2.951,0h0m2.951,0h0m2.951,0h0m2.951,0h0m2.951,0h0m2.951,0h0m2.951,0h0m2.951,0h0m2.951,0h0m2.951,0h0m2.951,0h0m2.951,0h0m2.951,0h0m2.951,0h0m2.951,0h0m2.951,0h0m2.951,0h0m2.951,0h0m2.951,0h0m2.951,0h0m2.951,0h0M572.82,802.52h0m2.951,0h0m2.951,0h0m2.951,0h0m2.951,0h0m2.951,0h0m2.951,0h0m2.951,0h0m2.951,0h0m2.951,0h0m2.951,0h0m2.951,0h0m2.951,0h0m2.951,0h0m2.951,0h0m2.951,0h0m2.951,0h0m2.951,0h0m2.951,0h0m2.951,0h0m2.951,0h0m2.951,0h0m2.951,0h0m2.951,0h0m2.951,0h0m2.951,0h0m2.951,0h0m2.951,0h0m2.951,0h0m2.951,0h0m2.951,0h0m2.951,0h0M578.72,797.87h0m2.951,0h0m2.951,0h0m2.951,0h0m2.951,0h0m2.951,0h0m2.951,0h0m2.951,0h0m2.951,0h0m2.951,0h0m2.951,0h0m2.951,0h0m2.951,0h0m2.951,0h0m2.951,0h0m2.951,0h0m2.951,0h0m2.951,0h0m2.951,0h0m2.951,0h0m2.951,0h0m2.951,0h0m2.951,0h0m2.951,0h0m2.951,0h0m2.951,0h0m2.951,0h0m2.951,0h0m2.951,0h0m2.951,0h0M584.62,793.23h0m2.951,0h0m2.951,0h0m2.951,0h0m2.951,0h0m2.951,0h0m2.951,0h0m2.951,0h0m2.951,0h0m2.951,0h0m2.951,0h0m2.951,0h0m2.951,0h0m2.951,0h0m2.951,0h0m2.951,0h0m2.951,0h0m2.951,0h0m2.951,0h0m2.951,0h0m2.951,0h0m2.951,0h0m2.951,0h0m2.951,0h0m2.951,0h0m2.951,0h0m2.951,0h0m2.951,0h0M590.53,788.58h0m2.951,0h0m2.951,0h0m2.951,0h0m2.951,0h0m2.951,0h0m2.951,0h0m2.951,0h0m2.951,0h0m2.951,0h0m2.951,0h0m2.951,0h0m2.951,0h0m2.951,0h0m2.951,0h0m2.951,0h0m2.951,0h0m2.951,0h0m2.951,0h0m2.951,0h0m2.951,0h0m2.951,0h0m2.951,0h0m2.951,0h0m2.951,0h0m2.951,0h0M596.43,783.93h0m2.951,0h0m2.951,0h0m2.951,0h0m2.951,0h0m2.951,0h0m2.951,0h0m2.951,0h0m2.951,0h0m2.951,0h0m2.951,0h0m2.951,0h0m2.951,0h0m2.951,0h0m2.951,0h0m2.951,0h0m2.951,0h0m2.951,0h0m2.951,0h0m2.951,0h0m2.951,0h0m2.951,0h0m2.951,0h0m2.951,0h0M602.33,779.28h0m2.951,0h0m2.951,0h0m2.951,0h0m2.951,0h0m2.951,0h0m2.951,0h0m2.951,0h0m2.951,0h0m2.951,0h0m2.951,0h0m2.951,0h0m2.951,0h0m2.951,0h0m2.951,0h0m2.951,0h0m2.951,0h0m2.951,0h0m2.951,0h0m2.951,0h0m2.951,0h0m2.951,0h0M608.23,774.63h0m2.951,0h0m2.951,0h0m2.951,0h0m2.951,0h0m2.951,0h0m2.951,0h0m2.951,0h0m2.951,0h0m2.951,0h0m2.951,0h0m2.951,0h0m2.951,0h0m2.951,0h0m2.951,0h0m2.951,0h0m2.951,0h0m2.951,0h0m2.951,0h0m2.951,0h0M614.13,769.98h0m2.951,0h0m2.951,0h0m2.951,0h0m2.951,0h0m2.951,0h0m2.951,0h0m2.951,0h0m2.951,0h0m2.951,0h0m2.951,0h0m2.951,0h0m2.951,0h0m2.951,0h0m2.951,0h0m2.951,0h0m2.951,0h0m2.951,0h0M620.04,765.33h0m2.951,0h0m2.951,0h0m2.951,0h0m2.951,0h0m2.951,0h0m2.951,0h0m2.951,0h0m2.951,0h0m2.951,0h0m2.951,0h0m2.951,0h0m2.951,0h0m2.951,0h0m2.951,0h0m2.951,0h0M625.94,760.68h0m2.951,0h0m2.951,0h0m2.951,0h0m2.951,0h0m2.951,0h0m2.951,0h0m2.951,0h0m2.951,0h0m2.951,0h0m2.951,0h0m2.951,0h0m2.951,0h0m2.951,0h0M631.84,756.03h0m2.951,0h0m2.951,0h0m2.951,0h0m2.951,0h0m2.951,0h0m2.951,0h0m2.951,0h0m2.951,0h0m2.951,0h0m2.951,0h0m2.951,0h0M637.74,751.38h0m2.951,0h0m2.951,0h0m2.951,0h0m2.951,0h0m2.951,0h0m2.951,0h0m2.951,0h0m2.951,0h0m2.951,0h0M643.64,746.74h0m2.951,0h0m2.951,0h0m2.951,0h0m2.951,0h0m2.951,0h0m2.951,0h0m2.951,0h0M649.55,742.09h0m2.951,0h0m2.951,0h0m2.951,0h0m2.951,0h0m2.951,0h0M655.45,737.44h0m2.951,0h0m2.951,0h0m2.951,0h0M661.35,732.79h0m2.951,0h0" stroke="#000" stroke-width="1.35" stroke-linecap="round" fill="none"/>
<path d="M115.80,680.53L667.00,602.06" stroke="#000" stroke-width="1.8" fill="none" stroke-dasharray="6.3 8.23"/>
<path d="M432.00,914.00L668.00,728.20" stroke="#000" stroke-width="1.8" fill="none" stroke-dasharray="6.3 8.23" stroke-dashoffset="0"/>
<path d="M115.00,827.61L139.69,827.05L162.98,826.41L185.05,825.69L206.07,824.89L226.18,823.99L245.45,822.99L264.03,821.89L281.97,820.68L299.44,819.36L316.42,817.91L332.98,816.34L349.16,814.63L365.05,812.79L380.66,810.81L396.06,808.68L411.28,806.39L426.50,803.93L441.63,801.29L456.70,798.48L471.77,795.48L486.85,792.29L502.00,788.90L517.27,785.30L532.68,781.48L548.26,777.43L564.09,773.14L580.20,768.60L596.65,763.79L613.48,758.69L630.77,753.29L648.59,747.56L667.00,741.49" stroke="#000" stroke-width="1.85" fill="none" stroke-linejoin="round"/>
<path d="M115.00,832.53L138.76,833.13L160.86,833.82L181.46,834.61L200.71,835.49L218.78,836.47L235.73,837.56L251.65,838.77L266.64,840.10L280.81,841.56L294.17,843.16L306.74,844.89L318.60,846.78L329.76,848.81L340.28,851.01L350.17,853.38L354.89,854.62L359.47,855.91L363.94,857.26L368.28,858.65L372.47,860.09L376.53,861.58L380.46,863.12L384.27,864.72L387.94,866.36L391.50,868.05L394.94,869.81L398.27,871.62L401.47,873.48L404.56,875.40L407.54,877.38L410.41,879.42L413.18,881.54L415.85,883.71L418.41,885.95L420.87,888.24L423.23,890.61L425.51,893.06L427.69,895.58L429.77,898.17L431.77,900.85L433.69,903.61L435.51,906.44L437.27,909.37L438.94,912.39L440.52,915.50L442.04,918.72L443.48,922.03L444.84,925.45L446.14,928.98M475.33,928.97L477.25,922.42L479.34,916.07L481.62,909.93L484.09,903.95L486.75,898.14L489.62,892.47L492.70,886.93L496.00,881.51L499.53,876.18L503.30,870.94L507.32,865.77L511.58,860.68L516.11,855.65L520.90,850.67L525.97,845.72L531.34,840.79L537.01,835.88L543.00,830.98L549.31,826.08L555.96,821.17L562.96,816.24L570.30,811.30L578.02,806.32L586.13,801.28L594.63,796.21L603.55,791.07L612.90,785.86L622.71,780.56L633.01,775.17L643.80,769.66L655.12,764.04L667.00,758.27" stroke="#000" stroke-width="1.85" fill="none" stroke-linejoin="round"/>
</g>
<path d="M157.39,914v-3.05M157.39,546v3.6M181.60,914v-3.05M181.60,546v3.6M198.78,914v-3.05M198.78,546v3.6M212.11,914v-3.05M212.11,546v3.6M223.00,914v-3.05M223.00,546v3.6M232.20,914v-3.05M232.20,546v3.6M240.17,914v-3.05M240.17,546v3.6M247.21,914v-3.05M247.21,546v3.6M253.50,914v-6.5M253.50,546v6.6M294.89,914v-3.05M294.89,546v3.6M319.10,914v-3.05M319.10,546v3.6M336.28,914v-3.05M336.28,546v3.6M349.61,914v-3.05M349.61,546v3.6M360.50,914v-3.05M360.50,546v3.6M369.70,914v-3.05M369.70,546v3.6M377.67,914v-3.05M377.67,546v3.6M384.71,914v-3.05M384.71,546v3.6M391.00,914v-6.5M391.00,546v6.6M432.39,914v-3.05M432.39,546v3.6M456.60,914v-3.05M456.60,546v3.6M473.78,914v-3.05M473.78,546v3.6M487.11,914v-3.05M487.11,546v3.6M498.00,914v-3.05M498.00,546v3.6M507.20,914v-3.05M507.20,546v3.6M515.17,914v-3.05M515.17,546v3.6M522.21,914v-3.05M522.21,546v3.6M528.50,914v-6.5M528.50,546v6.6M569.89,914v-3.05M569.89,546v3.6M594.10,914v-3.05M594.10,546v3.6M611.28,914v-3.05M611.28,546v3.6M624.61,914v-3.05M624.61,546v3.6M635.50,914v-3.05M635.50,546v3.6M644.70,914v-3.05M644.70,546v3.6M652.67,914v-3.05M652.67,546v3.6M659.71,914v-3.05M659.71,546v3.6M116,848.81h3.0M666,848.81h-3.9M116,810.68h3.0M666,810.68h-3.9M116,783.62h3.0M666,783.62h-3.9M116,762.64h3.0M666,762.64h-3.9M116,745.49h3.0M666,745.49h-3.9M116,730.99h3.0M666,730.99h-3.9M116,718.44h3.0M666,718.44h-3.9M116,707.36h3.0M666,707.36h-3.9M116,697.45h6.4M666,697.45h-6.8M116,632.26h3.0M666,632.26h-3.9M116,594.13h3.0M666,594.13h-3.9M116,567.07h3.0M666,567.07h-3.9" stroke="#000" stroke-width="2.0" fill="none"/>
<rect x="116" y="546" width="550" height="368" fill="none" stroke="#000" stroke-width="2.05"/>
<circle cx="440.37" cy="808.25" r="9.4" fill="#000"/>
<g transform="translate(80.00,941.70) rotate(0.03) scale(1,1.045)"><text font-size="19.2">1.0</text><text x="23.35" y="1.0" font-size="19" class="x">×</text><text x="37.9" font-size="19.2">10</text><text x="59.2" y="-8.8" font-size="15.36">-9</text></g>
<g transform="translate(217.50,941.70) rotate(0.03) scale(1,1.045)"><text font-size="19.2">1.0</text><text x="23.35" y="1.0" font-size="19" class="x">×</text><text x="37.9" font-size="19.2">10</text><text x="59.2" y="-8.8" font-size="15.36">-8</text></g>
<g transform="translate(355.00,941.70) rotate(0.03) scale(1,1.045)"><text font-size="19.2">1.0</text><text x="23.35" y="1.0" font-size="19" class="x">×</text><text x="37.9" font-size="19.2">10</text><text x="59.2" y="-8.8" font-size="15.36">-7</text></g>
<g transform="translate(492.50,941.70) rotate(0.03) scale(1,1.045)"><text font-size="19.2">1.0</text><text x="23.35" y="1.0" font-size="19" class="x">×</text><text x="37.9" font-size="19.2">10</text><text x="59.2" y="-8.8" font-size="15.36">-6</text></g>
<g transform="translate(630.00,941.70) rotate(0.03) scale(1,1.045)"><text font-size="19.2">1.0</text><text x="23.35" y="1.0" font-size="19" class="x">×</text><text x="37.9" font-size="19.2">10</text><text x="59.2" y="-8.8" font-size="15.36">-5</text></g>
<g transform="translate(36.80,922.80) rotate(0.03) scale(1,1.045)"><text font-size="19.2">1.0</text><text x="23.35" y="1.0" font-size="19" class="x">×</text><text x="37.9" font-size="19.2">10</text><text x="58.7" y="-8.8" font-size="15.36">7</text></g>
<g transform="translate(36.80,705.85) rotate(0.03) scale(1,1.045)"><text font-size="19.2">1.0</text><text x="23.35" y="1.0" font-size="19" class="x">×</text><text x="37.9" font-size="19.2">10</text><text x="58.7" y="-8.8" font-size="15.36">8</text></g>
<text transform="translate(390.70,520.90) rotate(0.03) scale(1,1.045)" font-size="22.0" text-anchor="middle">OAO1657</text>
<text transform="translate(314.50,969.80) rotate(0.03) scale(1,1.045)" font-size="19.2">dm</text>
<text transform="translate(343.20,974.70) rotate(0.03) scale(1,1.045)" font-size="15.36">w</text>
<text transform="translate(358.90,969.80) rotate(0.03) scale(1,1.045)" font-size="19.2" letter-spacing="0.25">/dt</text>
<text transform="translate(386.90,969.80) rotate(0.03) scale(1,1.045)" font-size="19.2">[</text>
<text transform="translate(392.24,969.80) rotate(0.03) scale(1,1.045)" font-size="19.2">M</text>
<text transform="translate(407.90,974.70) rotate(0.03) scale(1,1.045)" font-size="15.36" letter-spacing="0.4">sun</text>
<text transform="translate(438.70,969.80) rotate(0.03) scale(1,1.045)" font-size="19.2" letter-spacing="0.15">/yr</text>
<text transform="translate(460.50,969.80) rotate(0.03) scale(1,1.045)" font-size="19.2">]</text>
<text transform="translate(17.30,770.30) rotate(-90) rotate(0.03) scale(1,1.045)" font-size="19.2">v</text>
<text transform="translate(22.70,759.30) rotate(-90) rotate(0.03) scale(1,1.045)" font-size="15.36">w</text>
<text transform="translate(17.30,744.00) rotate(-90) rotate(0.03) scale(1,1.045)" font-size="19.2" letter-spacing="0.42">[cm/s]</text>
<text transform="translate(157.20,573.70) rotate(0.03) scale(1,1.045)" font-size="19.2" letter-spacing="0.3">(A)</text>
<text transform="translate(432.30,724.80) rotate(0.03) scale(1,1.045)" font-size="19.2" letter-spacing="0.3">(D)</text>
<text transform="translate(569.70,855.50) rotate(0.03) scale(1,1.045)" font-size="19.2" letter-spacing="0.3">(E)</text>
</svg></body></html>
